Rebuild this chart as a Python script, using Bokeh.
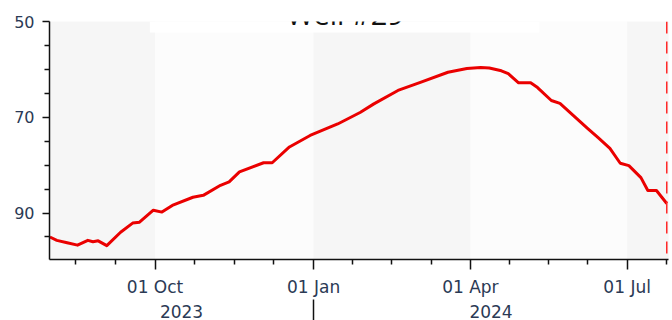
import datetime as dt
from bokeh.plotting import figure
from bokeh.models import (Range1d, FixedTicker, DatetimeTickFormatter, LinearAxis,
                          BoxAnnotation, Span, Label, ColumnDataSource)
from bokeh.embed import file_html
from bokeh.resources import INLINE

# ---- data ----
dates = ["2023-08-01", "2023-08-05", "2023-08-11", "2023-08-17", "2023-08-23", "2023-08-26",
         "2023-08-29", "2023-09-03", "2023-09-11", "2023-09-18", "2023-09-22", "2023-09-30",
         "2023-10-05", "2023-10-11", "2023-10-23", "2023-10-29", "2023-11-08", "2023-11-13",
         "2023-11-19", "2023-12-03", "2023-12-08", "2023-12-18", "2023-12-30", "2024-01-15",
         "2024-01-28", "2024-02-05", "2024-02-19", "2024-03-03", "2024-03-19", "2024-03-30",
         "2024-04-07", "2024-04-12", "2024-04-19", "2024-04-23", "2024-04-29", "2024-05-06",
         "2024-05-10", "2024-05-18", "2024-05-23", "2024-05-31", "2024-06-08", "2024-06-14",
         "2024-06-21", "2024-06-27", "2024-07-02", "2024-07-09", "2024-07-13", "2024-07-18",
         "2024-07-24"]
levels = [95.0, 95.7, 96.2, 96.7, 95.7, 96.0,
          95.8, 96.8, 94.0, 92.1, 91.9, 89.4,
          89.8, 88.4, 86.7, 86.3, 84.2, 83.5,
          81.4, 79.5, 79.5, 76.2, 73.8, 71.4,
          69.0, 67.2, 64.4, 62.7, 60.6, 59.8,
          59.6, 59.7, 60.3, 60.9, 62.8, 62.8,
          63.8, 66.5, 67.1, 69.7, 72.3, 74.2,
          76.5, 79.6, 80.1, 82.6, 85.3, 85.3,
          88.0]
quarter_starts = ["2023-07-01", "2023-10-01", "2024-01-01", "2024-04-01", "2024-07-01", "2024-10-01"]
y_major = [50, 70, 90]
y_minor = [55, 60, 65, 75, 80, 85, 95]
marker_date = "2024-07-24"
title_text = "Well #29"


def ms(s):
    return dt.datetime.fromisoformat(s).replace(tzinfo=dt.timezone.utc).timestamp() * 1000.0


x0 = ms("2023-07-31T18:00")
x1 = ms("2024-07-25T00:00")

p = figure(width=672, height=320, output_backend="svg", toolbar_location=None,
           x_axis_type="datetime",
           x_range=Range1d(x0, x1), y_range=Range1d(99.7, 50),
           min_border_left=49, min_border_right=4, min_border_top=21, min_border_bottom=61,
           background_fill_color="#fcfcfc", border_fill_color="white")
p.outline_line_color = None
p.grid.visible = False

# quarter bands
qms = [ms(q) for q in quarter_starts]
for i in range(len(qms) - 1):
    if i % 2 == 0:
        p.add_layout(BoxAnnotation(left=qms[i], right=qms[i + 1], fill_color="#f6f6f6",
                                   fill_alpha=1.0, line_color=None, level="underlay"))
# title backdrop
p.add_layout(BoxAnnotation(left=ms("2023-09-28"), right=ms("2024-05-11"), top=50, bottom=52.3,
                           fill_color="white", fill_alpha=1.0, line_color=None, level="underlay"))

src = ColumnDataSource(dict(x=[ms(d) for d in dates], y=levels))
p.line("x", "y", source=src, line_color="#ea0000", line_width=3, line_join="round")

p.add_layout(Span(location=ms(marker_date), dimension="height", line_color="#ff2a2a",
                  line_width=1.5, line_dash="12 8"))

# x axis ticks
major = [q for q in qms if x0 <= q <= x1]
minor = []
for i in range(len(qms) - 1):
    step = (qms[i + 1] - qms[i]) / 4.0
    for k in range(1, 4):
        t = qms[i] + k * step
        if x0 <= t <= x1:
            minor.append(t)

lab_color = "#2b3a55"
fmt = "%d %b"
xa = p.xaxis[0]
xa.ticker = FixedTicker(ticks=major, minor_ticks=minor)
xa.formatter = DatetimeTickFormatter(milliseconds=fmt, seconds=fmt, minsec=fmt, minutes=fmt,
                                     hourmin=fmt, hours=fmt, days=fmt, months=fmt, years=fmt)
xa.major_tick_in = 0
xa.major_tick_out = 10
xa.minor_tick_in = 0
xa.minor_tick_out = 5
xa.axis_line_color = "#111111"
xa.axis_line_width = 1.5
xa.major_tick_line_color = "#111111"
xa.major_tick_line_width = 1.5
xa.minor_tick_line_color = "#111111"
xa.minor_tick_line_width = 1.5
xa.major_label_standoff = 7
xa.major_label_text_font = "DejaVu Sans"
xa.major_label_text_font_size = "17px"
xa.major_label_text_color = lab_color

# year axis (labels at the middle of each visible year, separator tick at the year change)
year_ticks = []
for ys, ye in [("2023-01-01", "2024-01-01"), ("2024-01-01", "2025-01-01")]:
    a = max(ms(ys), x0)
    b = min(ms(ye), x1)
    year_ticks.append((a + b) / 2.0)
yf = "%Y"
ya2 = LinearAxis(ticker=FixedTicker(ticks=year_ticks, minor_ticks=[ms("2024-01-01")]),
                 formatter=DatetimeTickFormatter(milliseconds=yf, seconds=yf, minsec=yf, minutes=yf,
                                                 hourmin=yf, hours=yf, days=yf, months=yf, years=yf))
ya2.axis_line_color = None
ya2.major_tick_line_color = None
ya2.major_tick_in = 0
ya2.major_tick_out = 0
ya2.minor_tick_in = 0
ya2.minor_tick_out = 22
ya2.minor_tick_line_color = "#111111"
ya2.minor_tick_line_width = 1.5
ya2.major_label_standoff = -17
ya2.major_label_text_font = "DejaVu Sans"
ya2.major_label_text_font_size = "17px"
ya2.major_label_text_color = lab_color
p.add_layout(ya2, "below")

# y axis
yax = p.yaxis[0]
yax.ticker = FixedTicker(ticks=y_major, minor_ticks=y_minor)
yax.major_tick_in = 0
yax.major_tick_out = 7
yax.minor_tick_in = 0
yax.minor_tick_out = 5
yax.axis_line_color = "#111111"
yax.axis_line_width = 1.5
yax.major_tick_line_color = "#111111"
yax.major_tick_line_width = 1.5
yax.minor_tick_line_color = "#111111"
yax.minor_tick_line_width = 1.5
yax.major_label_standoff = 8
yax.major_label_text_font = "DejaVu Sans"
yax.major_label_text_font_size = "16px"
yax.major_label_text_color = lab_color

# title (partly above the page, as in the reference)
p.add_layout(Label(x=ms("2024-01-19T10:00"), y=48.4, text=title_text,
                   text_font="Open Sans", text_font_size="29px", text_color="#111111",
                   text_align="center", text_baseline="alphabetic"))

open("out.html", "w").write(file_html(p, INLINE))
